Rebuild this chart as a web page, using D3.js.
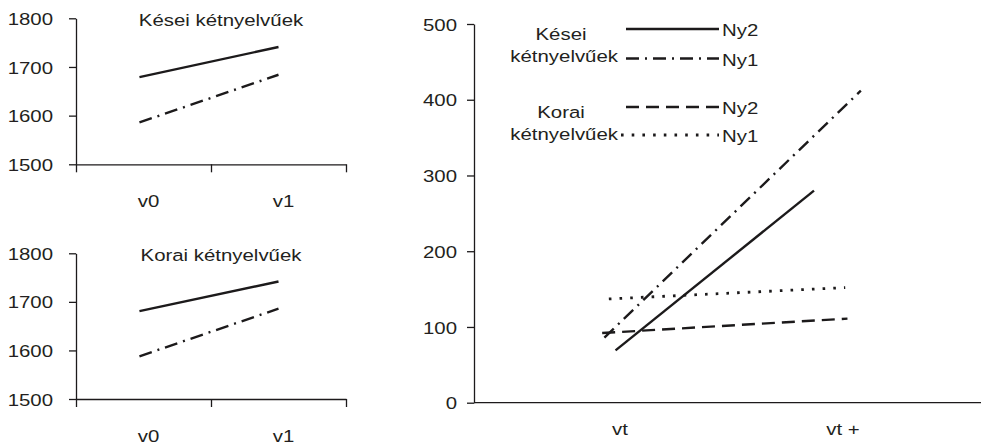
<!DOCTYPE html>
<html>
<head>
<meta charset="utf-8">
<script src="https://cdn.jsdelivr.net/npm/d3@7"></script>
<style>
  html, body { margin: 0; padding: 0; background: #fff; }
  svg { display: block; }
  text { font-family: "Liberation Sans", Arial, Helvetica, sans-serif; fill: #231f20; }
</style>
</head>
<body>
<svg id="chart" width="981" height="445"></svg>
<script>
// ---- data ----
const smallCats = ["v0", "v1"];
const smallTicks = [1500, 1600, 1700, 1800];
const keseiTitle = "Kései kétnyelvűek";
const koraiTitle = "Korai kétnyelvűek";
const keseiSmallNy2 = [1679, 1741];
const keseiSmallNy1 = [1586, 1684];
const koraiSmallNy2 = [1681, 1742];
const koraiSmallNy1 = [1588, 1686];
// where the lines sit along the v0..v1 axis (category 0 centre = 0.5)
const smallLineAt = [0.47, 1.5];

const bigCats = ["vt", "vt +"];
const bigTicks = [0, 100, 200, 300, 400, 500];
// position along the vt → vt + axis (0 = vt, 1 = vt +) and value
const keseiNy2At = [-0.02, 0.87];
const keseiNy2 = [69, 280];
const keseiNy1At = [-0.07, 1.08];
const keseiNy1 = [86, 412];
const koraiNy2At = [-0.08, 1.02];
const koraiNy2 = [92, 111];
const koraiNy1At = [-0.05, 1.01];
const koraiNy1 = [137, 152];

const legendGroups = ["Kései", "Korai"];
const legendSub = "kétnyelvűek";
const legendSeries = ["Ny2", "Ny1"];

// ---- styles ----
const INK = "#1c1a1b";
const FONT = 17;
const STRETCH = 1.2;
const LINE_W = 2.4;
const dashDot = "13,6,2,6";
const dashed = "13,7";
const dotted = "2.6,8.1";

const svg = d3.select("#chart");

function label(g, x, y, txt, anchor) {
  return g.append("text")
    .attr("transform", `translate(${x},${y}) scale(${STRETCH},1)`)
    .attr("text-anchor", anchor || "middle")
    .style("font-size", FONT + "px")
    .text(txt);
}

function styleAxis(g, pad, tick) {
  g.selectAll("path.domain").attr("stroke", INK).attr("stroke-width", 1.3);
  g.selectAll(".tick line").attr("stroke", INK).attr("stroke-width", 1.3);
  g.selectAll(".tick text")
    .attr("x", -(tick + pad) / STRETCH)
    .attr("dy", "0.36em")
    .attr("transform", `scale(${STRETCH},1)`)
    .style("font-size", FONT + "px")
    .style("font-family", '"Liberation Sans", Arial, sans-serif')
    .attr("fill", "#231f20");
}

// ---- small panels ----
function smallPanel(top, bottom, title, ny2, ny1) {
  const g = svg.append("g");
  const x = d3.scaleLinear().domain([0, 2]).range([76, 346]);
  const y = d3.scaleLinear().domain([1500, 1800]).range([bottom, top]);

  const ya = g.append("g").attr("transform", "translate(76,0)")
    .call(d3.axisLeft(y).tickValues(smallTicks).tickSize(7).tickSizeOuter(0).tickFormat(d3.format("d")));
  styleAxis(ya, 16, 7);

  const xa = g.append("g").attr("transform", `translate(0,${bottom})`)
    .call(d3.axisBottom(x).tickValues([0, 1, 2]).tickSize(8).tickSizeOuter(0).tickFormat(""));
  xa.selectAll("path.domain").attr("stroke", INK).attr("stroke-width", 1.3);
  xa.selectAll(".tick line").attr("stroke", INK).attr("stroke-width", 1.3);

  smallCats.forEach((c, i) => label(g, x(i + 0.5) + 5, bottom + 43, c));
  label(g, 221, top + 8, title);

  const line = d3.line().x((d, i) => x(smallLineAt[i])).y(d => y(d));
  g.append("path").datum(ny2).attr("d", line)
    .attr("fill", "none").attr("stroke", INK).attr("stroke-width", LINE_W);
  g.append("path").datum(ny1).attr("d", line)
    .attr("fill", "none").attr("stroke", INK).attr("stroke-width", LINE_W)
    .attr("stroke-dasharray", dashDot);
}

smallPanel(18.3, 164.3, keseiTitle, keseiSmallNy2, keseiSmallNy1);
smallPanel(253.3, 399, koraiTitle, koraiSmallNy2, koraiSmallNy1);

// ---- large panel ----
const bigLeft = 474, bigRight = 981, bigTop = 24, bigBottom = 402.7;
const gb = svg.append("g");
const xb = d3.scaleLinear().domain([0, 1]).range([bigLeft + 146, bigLeft + 369]);
const yb = d3.scaleLinear().domain([0, 500]).range([bigBottom, bigTop]);

const yba = gb.append("g").attr("transform", `translate(${bigLeft},0)`)
  .call(d3.axisLeft(yb).tickValues(bigTicks).tickSize(7).tickSizeOuter(0));
styleAxis(yba, 10, 7);

gb.append("line")
  .attr("x1", bigLeft).attr("x2", bigRight)
  .attr("y1", yb(0)).attr("y2", yb(0))
  .attr("stroke", INK).attr("stroke-width", 1.3);

bigCats.forEach((c, i) => label(gb, xb(i), bigBottom + 32, c));

const bigSeries = [
  { at: keseiNy2At, v: keseiNy2, dash: null },
  { at: keseiNy1At, v: keseiNy1, dash: dashDot },
  { at: koraiNy2At, v: koraiNy2, dash: dashed },
  { at: koraiNy1At, v: koraiNy1, dash: dotted }
];
const lineB = d3.line();
bigSeries.forEach(s => {
  const pts = s.v.map((v, i) => [xb(s.at[i]), yb(v)]);
  const p = gb.append("path").attr("d", lineB(pts))
    .attr("fill", "none").attr("stroke", INK).attr("stroke-width", LINE_W);
  if (s.dash) p.attr("stroke-dasharray", s.dash);
  if (s.dash === dotted) p.attr("stroke-width", 2.8);
});

// ---- legend ----
const lg = svg.append("g");
const legendRows = [
  { y: 29, dash: null },
  { y: 58.5, dash: dashDot },
  { y: 107, dash: dashed },
  { y: 135, dash: dotted }
];
legendRows.forEach((r, i) => {
  const ln = lg.append("line")
    .attr("x1", 626).attr("x2", 719).attr("y1", r.y).attr("y2", r.y)
    .attr("stroke", INK).attr("stroke-width", LINE_W);
  if (r.dash) ln.attr("stroke-dasharray", r.dash);
  if (r.dash === dotted) ln.attr("stroke-width", 2.8).attr("x1", 621);
  label(lg, 722, r.y + 7, legendSeries[i % 2], "start");
});
legendGroups.forEach((grp, k) => {
  const base = legendRows[k * 2].y;
  label(lg, 561, base + 11, grp);
  label(lg, 618, base + 33, legendSub, "end");
});
</script>
</body>
</html>
